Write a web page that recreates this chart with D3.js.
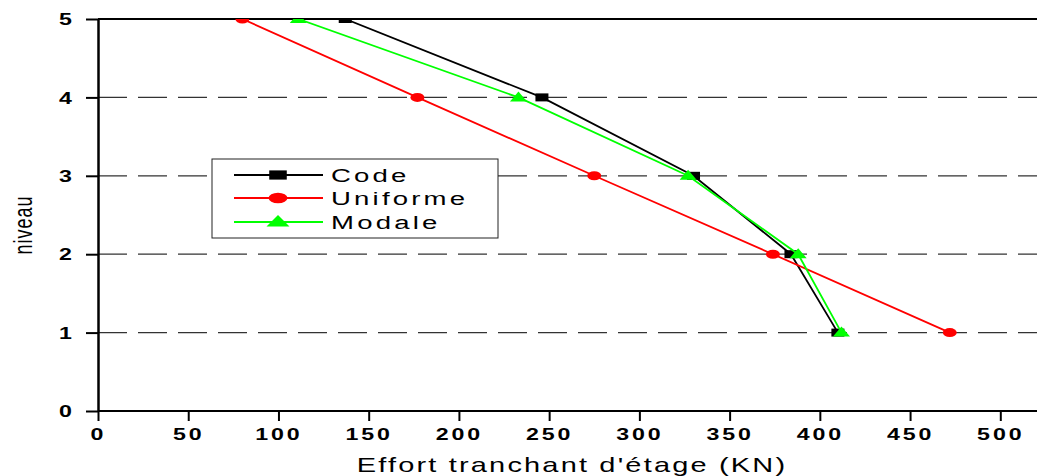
<!DOCTYPE html>
<html>
<head>
<meta charset="utf-8">
<script src="https://cdn.jsdelivr.net/npm/d3@7"></script>
<style>
body{margin:0;background:#fff;}
svg{display:block;font-family:"Liberation Sans",Arial,sans-serif;}
</style>
</head>
<body>
<svg id="chart" width="1037" height="476"></svg>
<script>
// values
var levels=[1,2,3,4,5];
var code=[410,384,330,246,137];
var uniforme=[472,374,275,177,80];
var modale=[412,388,327,233,111];
var xTicks=[0,50,100,150,200,250,300,350,400,450,500];
var yTicks=[0,1,2,3,4,5];
var seriesNames=["Code","Uniforme","Modale"];

var sx=1.45; // the picture is stretched sideways

var svg=d3.select("#chart");
var x=d3.scaleLinear().domain([0,522]).range([98,1040]);
var y=d3.scaleLinear().domain([0,5]).range([411,19]);

svg.append("clipPath").attr("id","plot")
  .append("rect").attr("x",98).attr("y",19).attr("width",945).attr("height",392);

// dashed grid
svg.append("g").selectAll("line").data([1,2,3,4]).enter().append("line")
  .attr("x1",x(0)).attr("x2",1040)
  .attr("y1",d=>y(d)).attr("y2",d=>y(d))
  .attr("stroke","#333").attr("stroke-width",1.2)
  .attr("stroke-dasharray","29,11");

// top frame line
svg.append("line").attr("x1",x(0)).attr("x2",1040)
  .attr("y1",y(5)).attr("y2",y(5)).attr("stroke","#000").attr("stroke-width",2);

// axes
var xAxis=svg.append("g").attr("transform","translate(0,"+y(0)+")")
  .call(d3.axisBottom(x).tickValues(xTicks).tickSize(10).tickSizeOuter(0).tickFormat(d3.format("d")));
xAxis.select(".domain").attr("stroke-width",2).attr("d","M"+x(0)+",0H1040");
xAxis.selectAll(".tick line").attr("stroke-width",2);
xAxis.selectAll(".tick text").attr("y",29).attr("dy",0)
  .attr("font-size",16).attr("font-weight","bold").attr("letter-spacing","2px")
  .attr("fill","#000").attr("transform","scale("+sx+",1)");

var yAxis=svg.append("g").attr("transform","translate("+x(0)+",0)")
  .call(d3.axisLeft(y).tickValues(yTicks).tickSize(12).tickSizeOuter(0).tickFormat(d3.format("d")));
yAxis.select(".domain").attr("stroke-width",2.5);
yAxis.selectAll(".tick line").attr("stroke-width",2);
yAxis.selectAll(".tick text").attr("x",-26/sx).attr("dy","0.36em")
  .attr("font-size",16).attr("font-weight","bold")
  .attr("fill","#000").attr("transform","scale("+sx+",1)");
svg.selectAll(".domain").attr("stroke","#000");

// axis titles
svg.append("text").attr("transform","translate(572,472) scale("+sx+",1)")
  .attr("text-anchor","middle").attr("font-size",20).attr("letter-spacing","1.5px")
  .text("Effort tranchant d'étage (KN)");
svg.append("text").attr("transform","translate(32,225) scale("+sx+",1) rotate(-90)")
  .attr("text-anchor","middle").attr("font-size",18).attr("letter-spacing","1px")
  .text("niveau");

// markers
function square(g,w,h){g.append("rect").attr("x",-w/2).attr("y",-h/2).attr("width",w).attr("height",h).attr("fill","#000");}
function dot(g,w,h){g.append("ellipse").attr("rx",w/2).attr("ry",h/2).attr("fill","#f00");}
function tri(g,w,h){g.append("path").attr("d","M0,"+(-h*0.6)+"L"+(w/2)+","+(h*0.4)+"L"+(-w/2)+","+(h*0.4)+"Z").attr("fill","#0f0");}

var series=[
  {vals:code,color:"#000",mark:square,w:13,h:8},
  {vals:uniforme,color:"#f00",mark:dot,w:14,h:9},
  {vals:modale,color:"#0f0",mark:tri,w:17,h:10}
];

var plot=svg.append("g").attr("clip-path","url(#plot)");
var line=d3.line().x(d=>x(d[0])).y(d=>y(d[1]));
series.forEach(function(s){
  var pts=s.vals.map((v,i)=>[v,levels[i]]);
  plot.append("path").datum(pts).attr("d",line)
    .attr("fill","none").attr("stroke",s.color).attr("stroke-width",1.8);
  pts.forEach(function(p){
    var g=plot.append("g").attr("transform","translate("+x(p[0])+","+y(p[1])+")");
    s.mark(g,s.w,s.h);
  });
});

// legend
var lg=svg.append("g");
lg.append("rect").attr("x",212).attr("y",159).attr("width",286).attr("height",79)
  .attr("fill","#fff").attr("stroke","#222").attr("stroke-width",1);
var rowsY=[175,198,222];
series.forEach(function(s,i){
  lg.append("line").attr("x1",234).attr("x2",323).attr("y1",rowsY[i]).attr("y2",rowsY[i])
    .attr("stroke",s.color).attr("stroke-width",1.8);
  var g=lg.append("g").attr("transform","translate(278,"+rowsY[i]+")");
  s.mark(g,s.w*1.35,s.h*1.15);
  lg.append("text").attr("transform","translate(331,"+(rowsY[i]+7)+") scale("+sx+",1)")
    .attr("font-size",19).attr("letter-spacing","2.2px").text(seriesNames[i]);
});
</script>
</body>
</html>
